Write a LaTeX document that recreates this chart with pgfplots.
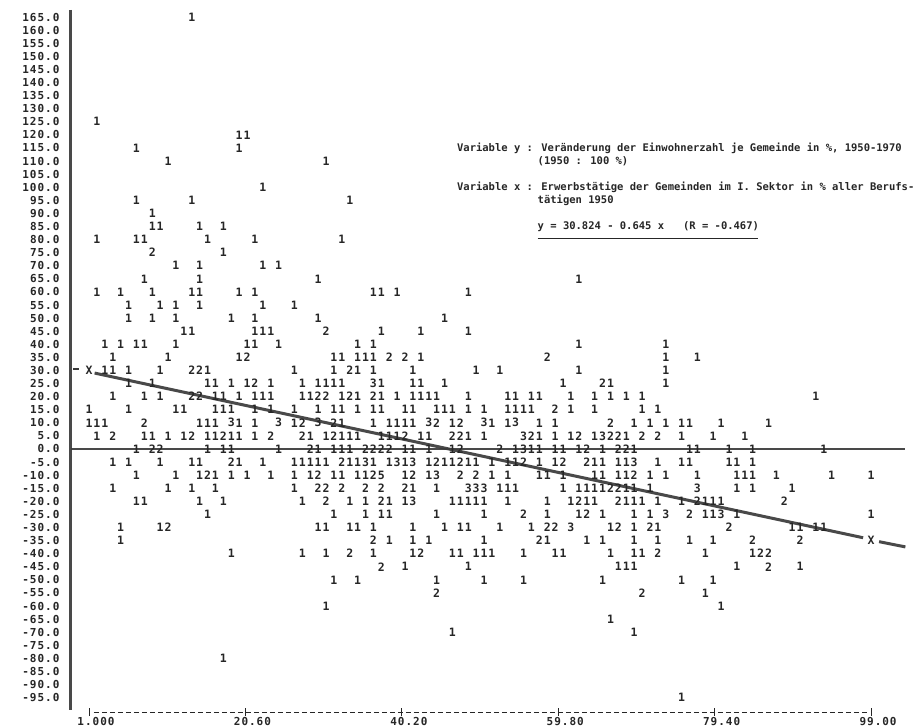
\documentclass[border=0pt]{standalone}
\usepackage{fontspec}
\usepackage{pgfplots}
\pgfplotsset{compat=1.18}
\newfontfamily\prt[LetterSpace=9]{DejaVu Sans Mono}
\newfontfamily\typ{DejaVu Sans Mono}
\definecolor{ink}{HTML}{262626}
\definecolor{pen}{HTML}{3A3A3A}
\begin{document}
\begin{tikzpicture}
\begin{axis}[
  scale only axis, width=834.4pt, height=709.2pt,
  xmin=-1.26, xmax=103.3, ymin=-100.5, ymax=170.4,
  axis line style={draw=none},
  clip=false,
  xtick={1,20.6,40.2,59.8,79.4,99},
  xticklabels={1.000,20.60,40.20,59.80,79.40,99.00},
  ytick={-95,-90,...,165},
  yticklabels={-95.0,-90.0,-85.0,-80.0,-75.0,-70.0,-65.0,-60.0,-55.0,-50.0,-45.0,-40.0,-35.0,-30.0,-25.0,-20.0,-15.0,-10.0,-5.0,0.0,5.0,10.0,15.0,20.0,25.0,30.0,35.0,40.0,45.0,50.0,55.0,60.0,65.0,70.0,75.0,80.0,85.0,90.0,95.0,100.0,105.0,110.0,115.0,120.0,125.0,130.0,135.0,140.0,145.0,150.0,155.0,160.0,165.0},
  xtick pos=bottom, ytick pos=left,
  tick align=center,
  major tick length=8pt,
  x tick style={ink, line width=0.9pt},
  y tick style={draw=none},
  xticklabel style={font=\prt\bfseries\fontsize{11}{12}\selectfont, text=ink, xshift=7pt, yshift=2.5pt},
  yticklabel style={font=\prt\bfseries\fontsize{11}{12}\selectfont, text=ink, xshift=-4pt},
  every node near coord/.append style={font=\prt\bfseries\fontsize{11.5}{12}\selectfont, text=ink, anchor=center, inner sep=0pt},
  nodes near coords align=center,
]
% printed frequencies (digit = number of communes in the cell)
\addplot[only marks, mark=none, nodes near coords, point meta=explicit symbolic]
 table[row sep=\\, meta=n] {
x y n\\
13.87 165 1\\
1.99 125 1\\
19.81 120 1\\ 20.80 120 1\\
6.94 115 1\\ 19.81 115 1\\
10.90 110 1\\ 30.70 110 1\\
22.78 100 1\\
6.94 95 1\\ 13.87 95 1\\ 33.67 95 1\\
8.92 90 1\\
8.92 85 1\\ 9.91 85 1\\ 14.86 85 1\\ 17.83 85 1\\
1.99 80 1\\ 6.94 80 1\\ 7.93 80 1\\ 15.85 80 1\\ 21.79 80 1\\ 32.68 80 1\\
8.92 75 2\\ 17.83 75 1\\
11.89 70 1\\ 14.86 70 1\\ 22.78 70 1\\ 24.76 70 1\\
7.93 65 1\\ 14.86 65 1\\ 29.71 65 1\\ 62.38 65 1\\
1.99 60 1\\ 4.96 60 1\\ 8.92 60 1\\ 13.87 60 1\\ 14.86 60 1\\ 19.81 60 1\\ 21.79 60 1\\ 36.64 60 1\\ 37.63 60 1\\ 39.61 60 1\\ 48.52 60 1\\
5.95 55 1\\ 9.91 55 1\\ 11.89 55 1\\ 14.86 55 1\\ 22.78 55 1\\ 26.74 55 1\\
5.95 50 1\\ 8.92 50 1\\ 11.89 50 1\\ 18.82 50 1\\ 21.79 50 1\\ 29.71 50 1\\ 45.55 50 1\\
12.88 45 1\\ 13.87 45 1\\ 21.79 45 1\\ 22.78 45 1\\ 23.77 45 1\\ 30.70 45 2\\ 37.63 45 1\\ 42.58 45 1\\ 48.52 45 1\\
2.98 40 1\\ 4.96 40 1\\ 6.94 40 1\\ 7.93 40 1\\ 11.89 40 1\\ 20.80 40 1\\ 21.79 40 1\\ 24.76 40 1\\ 34.66 40 1\\ 36.64 40 1\\ 62.38 40 1\\ 73.27 40 1\\
3.97 35 1\\ 10.90 35 1\\ 19.81 35 1\\ 20.80 35 2\\ 31.69 35 1\\ 32.68 35 1\\ 34.66 35 1\\ 35.65 35 1\\ 36.64 35 1\\ 38.62 35 2\\ 40.60 35 2\\ 42.58 35 1\\ 58.42 35 2\\ 73.27 35 1\\ 77.23 35 1\\
2.98 30 1\\ 3.97 30 1\\ 5.95 30 1\\ 9.91 30 1\\ 13.87 30 2\\ 14.86 30 2\\ 15.85 30 1\\ 26.74 30 1\\ 31.69 30 1\\ 33.67 30 2\\ 34.66 30 1\\ 36.64 30 1\\ 41.59 30 1\\ 49.51 30 1\\ 52.48 30 1\\ 62.38 30 1\\ 73.27 30 1\\
5.95 25 1\\ 8.92 25 1\\ 15.85 25 1\\ 16.84 25 1\\ 18.82 25 1\\ 20.80 25 1\\ 21.79 25 2\\ 23.77 25 1\\ 27.73 25 1\\ 29.71 25 1\\ 30.70 25 1\\ 31.69 25 1\\ 32.68 25 1\\ 36.64 25 3\\ 37.63 25 1\\ 41.59 25 1\\ 42.58 25 1\\ 45.55 25 1\\ 60.40 25 1\\ 65.35 25 2\\ 66.34 25 1\\ 73.27 25 1\\
3.97 20 1\\ 7.93 20 1\\ 9.91 20 1\\ 13.87 20 2\\ 14.86 20 2\\ 16.84 20 1\\ 17.83 20 1\\ 19.81 20 1\\ 21.79 20 1\\ 22.78 20 1\\ 23.77 20 1\\ 27.73 20 1\\ 28.72 20 1\\ 29.71 20 2\\ 30.70 20 2\\ 32.68 20 1\\ 33.67 20 2\\ 34.66 20 1\\ 36.64 20 2\\ 37.63 20 1\\ 39.61 20 1\\ 41.59 20 1\\ 42.58 20 1\\ 43.57 20 1\\ 44.56 20 1\\ 48.52 20 1\\ 53.47 20 1\\ 54.46 20 1\\ 56.44 20 1\\ 57.43 20 1\\ 61.39 20 1\\ 64.36 20 1\\ 66.34 20 1\\ 68.32 20 1\\ 70.30 20 1\\ 92.08 20 1\\
1.00 15 1\\ 5.95 15 1\\ 11.89 15 1\\ 12.88 15 1\\ 16.84 15 1\\ 17.83 15 1\\ 18.82 15 1\\ 21.79 15 1\\ 23.77 15 1\\ 26.74 15 1\\ 29.71 15 1\\ 31.69 15 1\\ 32.68 15 1\\ 34.66 15 1\\ 36.64 15 1\\ 37.63 15 1\\ 40.60 15 1\\ 41.59 15 1\\ 44.56 15 1\\ 45.55 15 1\\ 46.54 15 1\\ 48.52 15 1\\ 50.50 15 1\\ 53.47 15 1\\ 54.46 15 1\\ 55.45 15 1\\ 56.44 15 1\\ 59.41 15 2\\ 61.39 15 1\\ 64.36 15 1\\ 70.30 15 1\\ 72.28 15 1\\
1.00 10 1\\ 1.99 10 1\\ 2.98 10 1\\ 7.93 10 2\\ 14.86 10 1\\ 15.85 10 1\\ 16.84 10 1\\ 18.82 10 3\\ 19.81 10 1\\ 21.79 10 1\\ 24.76 10 3\\ 26.74 10 1\\ 27.73 10 2\\ 29.71 10 3\\ 31.69 10 2\\ 32.68 10 1\\ 36.64 10 1\\ 38.62 10 1\\ 39.61 10 1\\ 40.60 10 1\\ 41.59 10 1\\ 43.57 10 3\\ 44.56 10 2\\ 46.54 10 1\\ 47.53 10 2\\ 50.50 10 3\\ 51.49 10 1\\ 53.47 10 1\\ 54.46 10 3\\ 57.43 10 1\\ 59.41 10 1\\ 66.34 10 2\\ 69.31 10 1\\ 71.29 10 1\\ 73.27 10 1\\ 75.25 10 1\\ 76.24 10 1\\ 80.20 10 1\\ 86.14 10 1\\
1.99 5 1\\ 3.97 5 2\\ 7.93 5 1\\ 8.92 5 1\\ 10.90 5 1\\ 12.88 5 1\\ 13.87 5 2\\ 15.85 5 1\\ 16.84 5 1\\ 17.83 5 2\\ 18.82 5 1\\ 19.81 5 1\\ 21.79 5 1\\ 23.77 5 2\\ 27.73 5 2\\ 28.72 5 1\\ 30.70 5 1\\ 31.69 5 2\\ 32.68 5 1\\ 33.67 5 1\\ 34.66 5 1\\ 37.63 5 1\\ 38.62 5 1\\ 39.61 5 1\\ 40.60 5 2\\ 42.58 5 1\\ 43.57 5 1\\ 46.54 5 2\\ 47.53 5 2\\ 48.52 5 1\\ 50.50 5 1\\ 55.45 5 3\\ 56.44 5 2\\ 57.43 5 1\\ 59.41 5 1\\ 61.39 5 1\\ 62.38 5 2\\ 64.36 5 1\\ 65.35 5 3\\ 66.34 5 2\\ 67.33 5 2\\ 68.32 5 1\\ 70.30 5 2\\ 72.28 5 2\\ 75.25 5 1\\ 79.21 5 1\\ 83.17 5 1\\
6.94 0 1\\ 8.92 0 2\\ 9.91 0 2\\ 15.85 0 1\\ 17.83 0 1\\ 18.82 0 1\\ 24.76 0 1\\ 28.72 0 2\\ 29.71 0 1\\ 31.69 0 1\\ 32.68 0 1\\ 33.67 0 1\\ 35.65 0 2\\ 36.64 0 2\\ 37.63 0 2\\ 38.62 0 2\\ 40.60 0 1\\ 41.59 0 1\\ 43.57 0 1\\ 46.54 0 1\\ 47.53 0 2\\ 52.48 0 2\\ 54.46 0 1\\ 55.45 0 3\\ 56.44 0 1\\ 57.43 0 1\\ 59.41 0 1\\ 60.40 0 1\\ 62.38 0 1\\ 63.37 0 2\\ 65.35 0 1\\ 67.33 0 2\\ 68.32 0 2\\ 69.31 0 1\\ 76.24 0 1\\ 77.23 0 1\\ 81.19 0 1\\ 84.16 0 1\\ 93.07 0 1\\
3.97 -5 1\\ 5.95 -5 1\\ 9.91 -5 1\\ 13.87 -5 1\\ 14.86 -5 1\\ 18.82 -5 2\\ 19.81 -5 1\\ 22.78 -5 1\\ 26.74 -5 1\\ 27.73 -5 1\\ 28.72 -5 1\\ 29.71 -5 1\\ 30.70 -5 1\\ 32.68 -5 2\\ 33.67 -5 1\\ 34.66 -5 1\\ 35.65 -5 3\\ 36.64 -5 1\\ 38.62 -5 1\\ 39.61 -5 3\\ 40.60 -5 1\\ 41.59 -5 3\\ 43.57 -5 1\\ 44.56 -5 2\\ 45.55 -5 1\\ 46.54 -5 1\\ 47.53 -5 2\\ 48.52 -5 1\\ 49.51 -5 1\\ 51.49 -5 1\\ 53.47 -5 1\\ 54.46 -5 1\\ 55.45 -5 2\\ 57.43 -5 1\\ 59.41 -5 1\\ 60.40 -5 2\\ 63.37 -5 2\\ 64.36 -5 1\\ 65.35 -5 1\\ 67.33 -5 1\\ 68.32 -5 1\\ 69.31 -5 3\\ 72.28 -5 1\\ 75.25 -5 1\\ 76.24 -5 1\\ 81.19 -5 1\\ 82.18 -5 1\\ 84.16 -5 1\\
6.94 -10 1\\ 11.89 -10 1\\ 14.86 -10 1\\ 15.85 -10 2\\ 16.84 -10 1\\ 18.82 -10 1\\ 20.80 -10 1\\ 23.77 -10 1\\ 26.74 -10 1\\ 28.72 -10 1\\ 29.71 -10 2\\ 31.69 -10 1\\ 32.68 -10 1\\ 34.66 -10 1\\ 35.65 -10 1\\ 36.64 -10 2\\ 37.63 -10 5\\ 40.60 -10 1\\ 41.59 -10 2\\ 43.57 -10 1\\ 44.56 -10 3\\ 47.53 -10 2\\ 49.51 -10 2\\ 51.49 -10 1\\ 53.47 -10 1\\ 57.43 -10 1\\ 58.42 -10 1\\ 60.40 -10 1\\ 64.36 -10 1\\ 65.35 -10 1\\ 67.33 -10 1\\ 68.32 -10 1\\ 69.31 -10 2\\ 71.29 -10 1\\ 73.27 -10 1\\ 77.23 -10 1\\ 82.18 -10 1\\ 83.17 -10 1\\ 84.16 -10 1\\ 87.13 -10 1\\ 94.06 -10 1\\ 99.00 -10 1\\
3.97 -15 1\\ 10.90 -15 1\\ 13.87 -15 1\\ 16.84 -15 1\\ 26.74 -15 1\\ 29.71 -15 2\\ 30.70 -15 2\\ 32.68 -15 2\\ 35.65 -15 2\\ 37.63 -15 2\\ 40.60 -15 2\\ 41.59 -15 1\\ 44.56 -15 1\\ 48.52 -15 3\\ 49.51 -15 3\\ 50.50 -15 3\\ 52.48 -15 1\\ 53.47 -15 1\\ 54.46 -15 1\\ 60.40 -15 1\\ 62.38 -15 1\\ 63.37 -15 1\\ 64.36 -15 1\\ 65.35 -15 1\\ 66.34 -15 2\\ 67.33 -15 2\\ 68.32 -15 1\\ 69.31 -15 1\\ 71.29 -15 1\\ 77.23 -15 3\\ 82.18 -15 1\\ 84.16 -15 1\\ 89.11 -15 1\\
6.94 -20 1\\ 7.93 -20 1\\ 14.86 -20 1\\ 17.83 -20 1\\ 27.73 -20 1\\ 30.70 -20 2\\ 33.67 -20 1\\ 35.65 -20 1\\ 37.63 -20 2\\ 38.62 -20 1\\ 40.60 -20 1\\ 41.59 -20 3\\ 46.54 -20 1\\ 47.53 -20 1\\ 48.52 -20 1\\ 49.51 -20 1\\ 50.50 -20 1\\ 53.47 -20 1\\ 58.42 -20 1\\ 61.39 -20 1\\ 62.38 -20 2\\ 63.37 -20 1\\ 64.36 -20 1\\ 67.33 -20 2\\ 68.32 -20 1\\ 69.31 -20 1\\ 70.30 -20 1\\ 72.28 -20 1\\ 75.25 -20 1\\ 77.23 -20 2\\ 78.22 -20 1\\ 79.21 -20 1\\ 80.20 -20 1\\ 88.12 -20 2\\
15.85 -25 1\\ 31.69 -25 1\\ 35.65 -25 1\\ 37.63 -25 1\\ 38.62 -25 1\\ 44.56 -25 1\\ 50.50 -25 1\\ 55.45 -25 2\\ 58.42 -25 1\\ 62.38 -25 1\\ 63.37 -25 2\\ 65.35 -25 1\\ 69.31 -25 1\\ 71.29 -25 1\\ 73.27 -25 3\\ 76.24 -25 2\\ 78.22 -25 1\\ 79.21 -25 1\\ 80.20 -25 3\\ 82.18 -25 1\\ 99.00 -25 1\\
4.96 -30 1\\ 9.91 -30 1\\ 10.90 -30 2\\ 29.71 -30 1\\ 30.70 -30 1\\ 33.67 -30 1\\ 34.66 -30 1\\ 36.64 -30 1\\ 41.59 -30 1\\ 45.55 -30 1\\ 47.53 -30 1\\ 48.52 -30 1\\ 52.48 -30 1\\ 56.44 -30 1\\ 58.42 -30 2\\ 59.41 -30 2\\ 61.39 -30 3\\ 66.34 -30 1\\ 67.33 -30 2\\ 69.31 -30 1\\ 71.29 -30 2\\ 72.28 -30 1\\ 81.19 -30 2\\ 89.11 -30 1\\ 90.10 -30 1\\ 92.08 -30 1\\ 93.07 -30 1\\
4.96 -35 1\\ 36.64 -35 2\\ 38.62 -35 1\\ 41.59 -35 1\\ 43.57 -35 1\\ 50.50 -35 1\\ 57.43 -35 2\\ 58.42 -35 1\\ 63.37 -35 1\\ 65.35 -35 1\\ 69.31 -35 1\\ 72.28 -35 1\\ 76.24 -35 1\\ 79.21 -35 1\\ 84.16 -35 2\\ 90.10 -35 2\\
18.82 -40 1\\ 27.73 -40 1\\ 30.70 -40 1\\ 33.67 -40 2\\ 36.64 -40 1\\ 41.59 -40 1\\ 42.58 -40 2\\ 46.54 -40 1\\ 47.53 -40 1\\ 49.51 -40 1\\ 50.50 -40 1\\ 51.49 -40 1\\ 55.45 -40 1\\ 59.41 -40 1\\ 60.40 -40 1\\ 66.34 -40 1\\ 69.31 -40 1\\ 70.30 -40 1\\ 72.28 -40 2\\ 78.22 -40 1\\ 84.16 -40 1\\ 85.15 -40 2\\ 86.14 -40 2\\
37.63 -45 2\\ 40.60 -45 1\\ 48.52 -45 1\\ 67.33 -45 1\\ 68.32 -45 1\\ 69.31 -45 1\\ 82.18 -45 1\\ 86.14 -45 2\\ 90.10 -45 1\\
31.69 -50 1\\ 34.66 -50 1\\ 44.56 -50 1\\ 50.50 -50 1\\ 55.45 -50 1\\ 65.35 -50 1\\ 75.25 -50 1\\ 79.21 -50 1\\
44.56 -55 2\\ 70.30 -55 2\\ 78.22 -55 1\\
30.70 -60 1\\ 80.20 -60 1\\
66.34 -65 1\\
46.54 -70 1\\ 69.31 -70 1\\
17.83 -80 1\\
75.25 -95 1\\
};
% regression end marks
\addplot[only marks, mark=none, nodes near coords, point meta=explicit symbolic]
 table[row sep=\\, meta=n] {x y n\\ 1.00 30 X\\ 99.00 -35 X\\};
% hand-drawn lines
\addplot[pen, line width=3pt, opacity=0.92] coordinates {(-1.26,167.7) (-1.26,-99.7)};
\addplot[pen, line width=2.4pt, opacity=0.92] coordinates {(-1.26,0) (103.3,0)};
\addplot[pen, line width=3pt, opacity=0.92] coordinates {(1.7,29.0) (98.0,-33.9)};
\addplot[pen, line width=3pt, opacity=0.92] coordinates {(100.0,-35.4) (103.3,-37.4)};
\addplot[pen, line width=1.5pt] coordinates {(-1.0,30.6) (-0.2,30.6)};
% printed x scale line
\addplot[ink, line width=0.9pt, dash pattern=on 5pt off 3pt] coordinates {(1.6,-100.5) (98.5,-100.5)};
% annotation
\node[anchor=west, inner sep=0pt, text=ink, font=\typ\bfseries\fontsize{10.5}{12}\selectfont] at (axis cs:47.1,115) {Variable y : Veränderung der Einwohnerzahl je Gemeinde in \%, 1950-1970};
\node[anchor=west, inner sep=0pt, text=ink, font=\typ\bfseries\fontsize{10.5}{12}\selectfont] at (axis cs:57.2,110) {(1950 : 100 \%)};
\node[anchor=west, inner sep=0pt, text=ink, font=\typ\bfseries\fontsize{10.5}{12}\selectfont] at (axis cs:47.1,100) {Variable x : Erwerbstätige der Gemeinden im I. Sektor in \% aller Berufs-};
\node[anchor=west, inner sep=0pt, text=ink, font=\typ\bfseries\fontsize{10.5}{12}\selectfont] at (axis cs:57.2,95) {tätigen 1950};
\node[anchor=west, inner sep=0pt, text=ink, font=\typ\bfseries\fontsize{10.5}{12}\selectfont] at (axis cs:57.2,85) {y = 30.824 - 0.645 x~~~(R = -0.467)};
\addplot[ink, line width=1.4pt] coordinates {(57.2,80.5) (84.8,80.5)};
\end{axis}
\pgfresetboundingbox
\path[use as bounding box] (-71pt,-15.9pt) rectangle (842pt,712.1pt);
\end{tikzpicture}
\end{document}
